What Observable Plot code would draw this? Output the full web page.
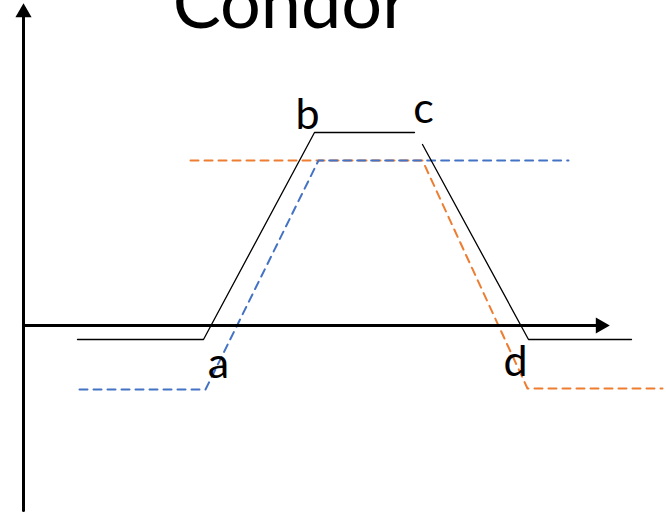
<!DOCTYPE html>
<html>
<head>
<meta charset="utf-8">
<script src="https://cdn.jsdelivr.net/npm/d3@7"></script>
<script src="https://cdn.jsdelivr.net/npm/@observablehq/plot@0.6"></script>
<style>
  html, body { margin: 0; padding: 0; background: #fff; }
  #chart { width: 666px; height: 514px; overflow: hidden; }
</style>
</head>
<body>
<div id="chart"></div>
<script>
// Payoff curve values (x = underlying price units, y = payoff units; 0 = horizontal axis)
const titleText = "Condor";

const blackX1 = [77, 203, 314, 414];
const blackY1 = [-14, -14, 193, 193];
const blackX2 = [422, 528, 631];
const blackY2 = [181, -14, -14];

const blueX = [79, 205, 318, 568];
const blueY = [-64, -64, 165, 165];

const orangeX = [190, 422, 527, 662];
const orangeY = [165, 165, -63, -63];

const axisOriginX = 23;
const axisYBottom = -185;
const axisYTop = 322;
const axisXRight = 609;

const labelNames = ["a", "b", "c", "d"];
const labelX = [218, 307, 423, 515];
const labelY = [-52, 197, 203, -50];

const toPts = (xs, ys) => xs.map((x, i) => ({x, y: ys[i]}));

const black1 = toPts(blackX1, blackY1);
const black2 = toPts(blackX2, blackY2);
const blue = toPts(blueX, blueY);
const orange = toPts(orangeX, orangeY);
const vAxis = [{x: axisOriginX, y: axisYBottom}, {x: axisOriginX, y: axisYTop - 8}];
const hAxis = [{x: axisOriginX, y: 0}, {x: axisXRight - 8, y: 0}];
const labels = labelNames.map((t, i) => ({t, x: labelX[i], y: labelY[i]}));

const plot = Plot.plot({
  width: 666,
  height: 514,
  margin: 0,
  x: {domain: [0, 666], range: [0, 666], axis: null},
  y: {domain: [-189, 325], range: [514, 0], axis: null},
  style: {background: "#fff"},
  marks: [
    Plot.line(orange, {x: "x", y: "y", stroke: "#ED7D31", strokeWidth: 2, strokeDasharray: "8,6"}),
    Plot.line(blue, {x: "x", y: "y", stroke: "#4472C4", strokeWidth: 2, strokeDasharray: "8,6"}),
    Plot.line(black1, {x: "x", y: "y", stroke: "#000", strokeWidth: 1.3}),
    Plot.line(black2, {x: "x", y: "y", stroke: "#000", strokeWidth: 1.3}),
    Plot.line(vAxis, {x: "x", y: "y", stroke: "#000", strokeWidth: 3}),
    Plot.line(hAxis, {x: "x", y: "y", stroke: "#000", strokeWidth: 3}),
    Plot.dot([{x: axisOriginX, y: axisYTop}], {x: "x", y: "y", symbol: "triangle", r: 6, fill: "#000", stroke: null, dy: 9}),
    Plot.dot([{x: axisXRight, y: 0}], {x: "x", y: "y", symbol: "triangle", r: 6, fill: "#000", stroke: null, rotate: 90, dx: -9}),
    Plot.text(labels, {x: "x", y: "y", text: "t", fontSize: 43, fontFamily: "Lato, sans-serif", fill: "#000", textAnchor: "middle", lineAnchor: "bottom"}),
    Plot.text([{t: titleText, x: 290, y: 298}], {x: "x", y: "y", text: "t", fontSize: 72, fontFamily: "Lato, sans-serif", fill: "#000", textAnchor: "middle", lineAnchor: "bottom"})
  ]
});
document.getElementById("chart").appendChild(plot);
</script>
</body>
</html>
